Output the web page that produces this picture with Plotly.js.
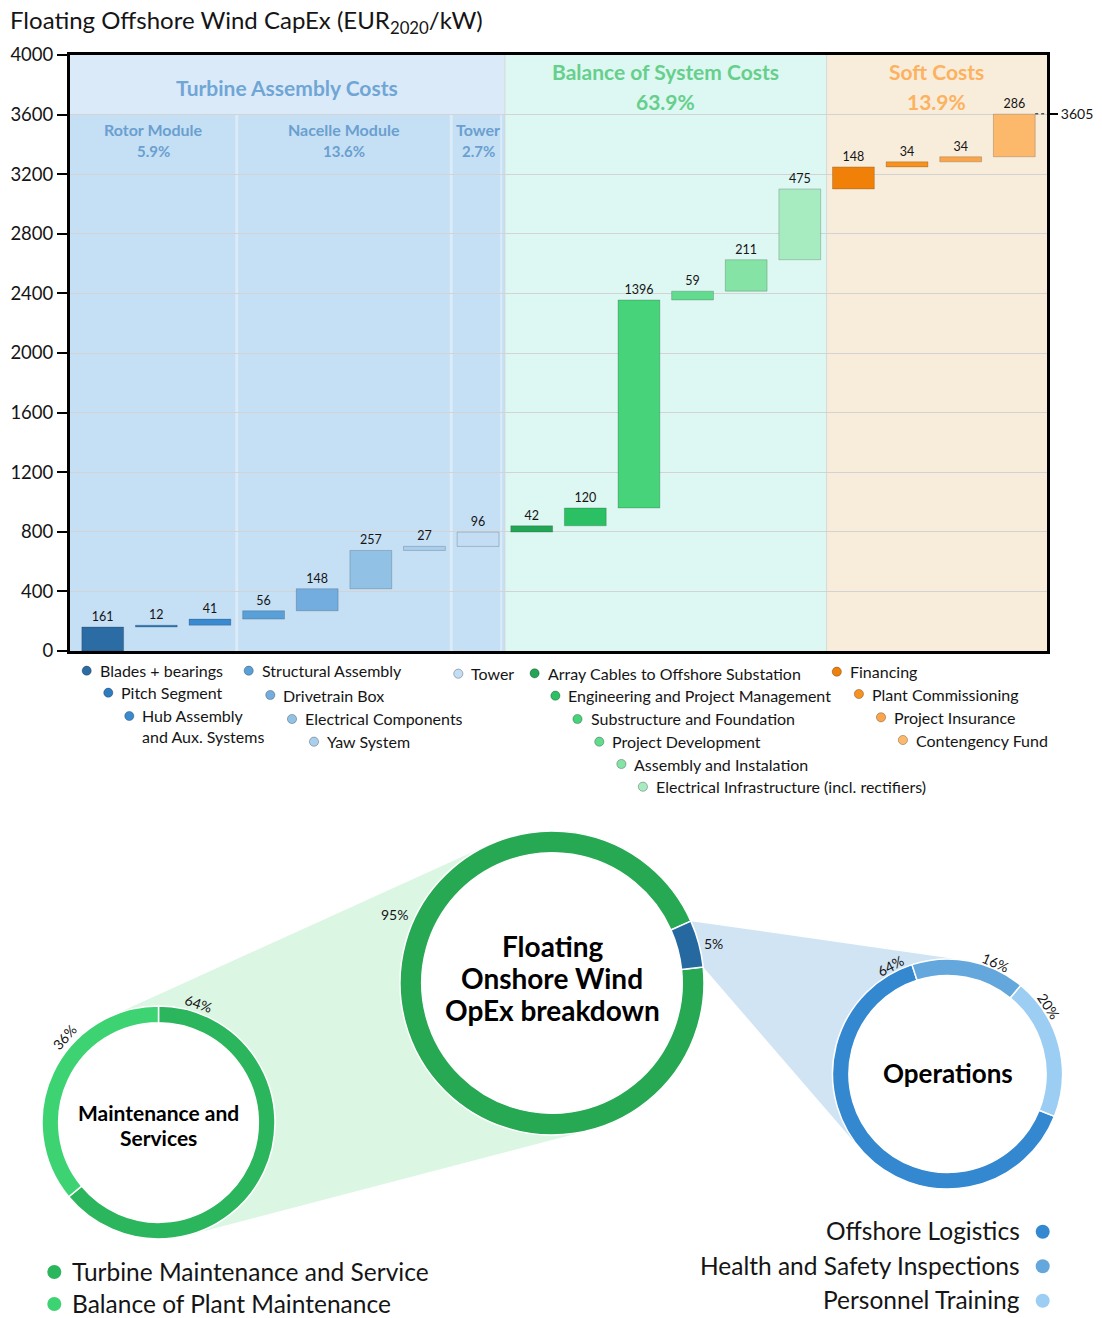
<!DOCTYPE html>
<html>
<head>
<meta charset="utf-8">
<script src="https://cdn.plot.ly/plotly-3.0.1.min.js"></script>
<style>html,body{margin:0;padding:0;background:#fff;}</style>
</head>
<body>
<div id="chart" style="width:1102px;height:1318px;"></div>
<script>
// ---- CapEx cost items (EUR2020 per kW), in waterfall order ----
const categories = [
  'Blades + bearings', 'Pitch Segment', 'Hub Assembly<br>and Aux. Systems',
  'Structural Assembly', 'Drivetrain Box', 'Electrical Components', 'Yaw System',
  'Tower',
  'Array Cables to Offshore Substation', 'Engineering and Project Management',
  'Substructure and Foundation', 'Project Development', 'Assembly and Instalation',
  'Electrical Infrastructure (incl. rectifiers)',
  'Financing', 'Plant Commissioning', 'Project Insurance', 'Contengency Fund'
];
const capex = [161, 12, 41, 56, 148, 257, 27, 96, 42, 120, 1396, 59, 211, 475, 148, 34, 34, 286];
const barColors = [
  '#2a6ca3', '#2e7cc0', '#3a8ad1', '#5aa0d8', '#73ade0', '#92c1e6', '#a9cfee', '#c3ddf4',
  '#23a556', '#2bc063', '#46d37a', '#62db8e', '#85e3a6', '#a7ebc0',
  '#f18008', '#f7921f', '#fba54a', '#fdb96b'
];
const totalCapex = 3605;

// cost sections and their shares of the total
const sectionNames = ['Turbine Assembly Costs', 'Balance of System Costs', 'Soft Costs'];
const sectionShares = ['', '63.9%', '13.9%'];
const moduleNames = ['Rotor Module', 'Nacelle Module', 'Tower'];
const moduleShares = ['5.9%', '13.6%', '2.7%'];

// ---- OpEx breakdown (shares in %) ----
const opexLabels = ['Maintenance and Services', 'Operations'];
const opexShares = [95, 5];
const opexColors = ['#27a853', '#2669a0'];

const maintLabels = ['Turbine Maintenance and Service', 'Balance of Plant Maintenance'];
const maintShares = [64, 36];
const maintColors = ['#2bb55c', '#3dd372'];

const opsLabels = ['Offshore Logistics', 'Health and Safety Inspections', 'Personnel Training'];
const opsShares = [64, 16, 20];
const opsColors = ['#3388d0', '#64a7dc', '#9ccdf2'];

// ---------------------------------------------------------------
const W = 1102, H = 1318;
const px = x => x / W;
const py = y => 1 - y / H;
const FONT = 'Lato, "DejaVu Sans", sans-serif';
const INK = '#151515';

// waterfall bases
const bases = [];
capex.reduce((acc, v) => { bases.push(acc); return acc + v; }, 0);

// category-index spans of each section / module
const sectionSpans = [[0, 7], [8, 13], [14, 17]];
const moduleSpans = [[0, 2], [3, 6], [7, 7]];
const XMIN = -0.61, XMAX = 17.61;
const BAR_W = 0.78;
const edgeLo = s => (s[0] === 0 ? XMIN : s[0] - 0.5);
const edgeHi = s => (s[1] === categories.length - 1 ? XMAX : s[1] + 0.5);

const shapes = [];
const annotations = [];

// section backgrounds
const sectionFill = ['#dbeaf8', '#ddf7f2', '#f8ecdb'];
sectionSpans.forEach((s, i) => {
  shapes.push({type: 'rect', xref: 'x', yref: 'y', layer: 'below',
    x0: edgeLo(s), x1: edgeHi(s), y0: 0, y1: 4000,
    fillcolor: sectionFill[i], line: {width: 0}});
});
// turbine module panels
moduleSpans.forEach(s => {
  shapes.push({type: 'rect', xref: 'x', yref: 'y', layer: 'below',
    x0: edgeLo(s), x1: s[1] + 0.5, y0: 0, y1: 3600,
    fillcolor: '#c5dff4', line: {width: 0}});
});
moduleSpans.slice(1).forEach(s => {
  shapes.push({type: 'line', xref: 'x', yref: 'y', layer: 'below',
    x0: s[0] - 0.5, x1: s[0] - 0.5, y0: 0, y1: 3600,
    line: {color: '#dcebf8', width: 3}});
});
shapes.push({type: 'line', xref: 'x', yref: 'y', layer: 'below',
  x0: 7.43, x1: 7.43, y0: 0, y1: 3600, line: {color: '#dcebf8', width: 2}});
sectionSpans.slice(1).forEach(s => {
  shapes.push({type: 'line', xref: 'x', yref: 'y', layer: 'below',
    x0: s[0] - 0.5, x1: s[0] - 0.5, y0: 0, y1: 4000,
    line: {color: '#d2d9d9', width: 1}});
});

// dotted connector from the last bar to the total tick
const lastIdx = categories.length - 1;
shapes.push({type: 'line', xref: 'x', yref: 'y', layer: 'above',
  x0: lastIdx + BAR_W / 2, x1: XMAX, y0: totalCapex, y1: totalCapex,
  line: {color: '#555', width: 1.5, dash: 'dot'}});

// section and module headers
const headerColors = ['#6fa6d6', '#66cf8b', '#fcb25f'];
sectionSpans.forEach((s, i) => {
  const xc = (edgeLo(s) + edgeHi(s)) / 2;
  if (sectionShares[i]) {
    annotations.push({xref: 'x', yref: 'y', x: xc, y: 3890, text: '<b>' + sectionNames[i] + '</b>',
      showarrow: false, font: {family: FONT, size: 21, color: headerColors[i]}});
    annotations.push({xref: 'x', yref: 'y', x: xc, y: 3690, text: '<b>' + sectionShares[i] + '</b>',
      showarrow: false, font: {family: FONT, size: 21, color: headerColors[i]}});
  } else {
    annotations.push({xref: 'x', yref: 'y', x: xc, y: 3785, text: '<b>' + sectionNames[i] + '</b>',
      showarrow: false, font: {family: FONT, size: 21, color: headerColors[i]}});
  }
});
moduleSpans.forEach((s, i) => {
  const xc = (edgeLo(s) + s[1] + 0.5) / 2;
  annotations.push({xref: 'x', yref: 'y', x: xc, y: 3500, text: '<b>' + moduleNames[i] + '</b>',
    showarrow: false, font: {family: FONT, size: 16, color: '#6a9fd0'}});
  annotations.push({xref: 'x', yref: 'y', x: xc, y: 3355, text: '<b>' + moduleShares[i] + '</b>',
    showarrow: false, font: {family: FONT, size: 15, color: '#6a9fd0'}});
});

// chart title
annotations.push({xref: 'paper', yref: 'paper', x: px(8), y: py(22), xanchor: 'left', yanchor: 'middle',
  text: 'Floating Offshore Wind CapEx (EUR<sub>2020</sub>/kW)', showarrow: false,
  font: {family: FONT, size: 24, color: INK}});

// staggered legend below the waterfall
const legendPos = [
  [86.7, 670.7], [108.3, 692.7], [129.3, 716], [248.7, 670.7], [270.3, 695], [292, 719], [314, 741.7],
  [458.3, 673.7],
  [534.6, 673.3], [555.4, 695.7], [577.5, 719], [599.3, 741.7], [621.4, 764], [642.9, 786.7],
  [836.8, 671.7], [858.9, 694], [881, 717.3], [902.9, 740]
];
categories.forEach((name, i) => {
  const [mx, my] = legendPos[i];
  shapes.push({type: 'circle', xref: 'paper', yref: 'paper', xsizemode: 'pixel', ysizemode: 'pixel',
    xanchor: px(mx), yanchor: py(my), x0: -4.6, x1: 4.6, y0: -4.6, y1: 4.6,
    fillcolor: barColors[i], line: {color: 'rgba(0,0,0,0.35)', width: 0.8}, layer: 'above'});
  const lines = name.split('<br>').length;
  annotations.push({xref: 'paper', yref: 'paper', x: px(mx + 11), y: py(my + (lines - 1) * 9.7),
    xanchor: 'left', yanchor: 'middle', text: name, align: 'left', showarrow: false,
    font: {family: FONT, size: 16, color: INK}});
});

// ---- donut geometry (pixel centres and outer radii) ----
const HOLE = 0.857;
const dMain = {x: 552, y: 983, r: 152};
const dMaint = {x: 158.5, y: 1122.5, r: 116.5};
const dOps = {x: 947.5, y: 1074, r: 115};
const rotMain = 84, rotMaint = 0, rotOps = 111.6;

const domainOf = d => ({x: [px(d.x - d.r), px(d.x + d.r)], y: [py(d.y + d.r), py(d.y - d.r)]});
const onCircle = (d, ang, rr) => [d.x + rr * Math.sin(ang * Math.PI / 180), d.y - rr * Math.cos(ang * Math.PI / 180)];
const toPath = pts => 'M ' + pts.map(p => px(p[0]) + ',' + py(p[1])).join(' L ') + ' Z';

// outer common tangents of two circles
function outerTangents(c1, c2) {
  const dx = c2.x - c1.x, dy = c2.y - c1.y, d = Math.hypot(dx, dy);
  const ux = dx / d, uy = dy / d, ca = (c1.r - c2.r) / d, sa = Math.sqrt(1 - ca * ca);
  return [1, -1].map(s => {
    const nx = ca * ux - s * sa * uy, ny = ca * uy + s * sa * ux;
    return [[c1.x + c1.r * nx, c1.y + c1.r * ny], [c2.x + c2.r * nx, c2.y + c2.r * ny]];
  });
}
// tangent point on a circle seen from an outside point
function tangentFrom(p, c, side) {
  const dx = c.x - p[0], dy = c.y - p[1], d = Math.hypot(dx, dy);
  const a = Math.atan2(dy, dx) + side * Math.asin(c.r / d), L = Math.sqrt(d * d - c.r * c.r);
  return [p[0] + L * Math.cos(a), p[1] + L * Math.sin(a)];
}

// green wedge: main donut -> maintenance donut
const [lowT, upT] = outerTangents(dMaint, dMain);
shapes.push({type: 'path', xref: 'paper', yref: 'paper', layer: 'below',
  path: toPath([upT[0], upT[1], [dMain.x, dMain.y], lowT[1], lowT[0], [dMaint.x, dMaint.y]]),
  fillcolor: '#dcf6e4', line: {width: 0}});

// blue wedge: operations slice -> operations donut
const opsStart = rotMain + 360 * opexShares[0] / 100;
const opsEnd = opsStart + 360 * opexShares[1] / 100;
const pA = onCircle(dMain, opsStart, dMain.r), pB = onCircle(dMain, opsEnd, dMain.r);
shapes.push({type: 'path', xref: 'paper', yref: 'paper', layer: 'below',
  path: toPath([pA, tangentFrom(pA, dOps, -1), [dOps.x, dOps.y], tangentFrom(pB, dOps, 1), pB]),
  fillcolor: '#d1e4f4', line: {width: 0}});

// white discs behind the donut holes
[dMain, dMaint, dOps].forEach(d => {
  shapes.push({type: 'circle', xref: 'paper', yref: 'paper', layer: 'below',
    x0: px(d.x - d.r), x1: px(d.x + d.r), y0: py(d.y + d.r), y1: py(d.y - d.r),
    fillcolor: '#ffffff', line: {width: 0}});
});

// donut centre titles
function centreText(lines, d, size, step, dy) {
  lines.forEach((t, i) => {
    annotations.push({xref: 'paper', yref: 'paper', x: px(d.x), y: py(d.y + dy + (i - (lines.length - 1) / 2) * step),
      xanchor: 'center', yanchor: 'middle', text: '<b>' + t + '</b>', showarrow: false,
      font: {family: FONT, size: size, color: '#000'}});
  });
}
centreText(['Floating', 'Onshore Wind', 'OpEx breakdown'], dMain, 28, 32, -5);
centreText(['Maintenance and', 'Services'], dMaint, 21, 25, 2);
centreText(['Operations'], dOps, 26, 0, -1);

// percentage labels around the donuts: [angle from 12 o'clock, radius, rotate?]
function pctLabels(d, shares, spots) {
  shares.forEach((v, i) => {
    const [ang, rr, turn] = spots[i];
    const p = onCircle(d, ang, rr);
    annotations.push({xref: 'paper', yref: 'paper', x: px(p[0]), y: py(p[1]),
      xanchor: 'center', yanchor: 'middle', text: v + '%', showarrow: false,
      textangle: turn ? ang : 0, font: {family: FONT, size: 14, color: INK}});
  });
}
pctLabels(dMain, opexShares, [[-66.4, 172, false], [76.4, 166, false]]);
pctLabels(dMaint, maintShares, [[18.6, 126, true], [-48, 127, true]]);
pctLabels(dOps, opsShares, [[-27.6, 122, true], [23.4, 122, true], [56.3, 122, true]]);

// donut legends
maintLabels.forEach((t, i) => {
  const y = 1272 + i * 32;
  shapes.push({type: 'circle', xref: 'paper', yref: 'paper', xsizemode: 'pixel', ysizemode: 'pixel',
    xanchor: px(54.3), yanchor: py(y), x0: -7, x1: 7, y0: -7, y1: 7,
    fillcolor: maintColors[i], line: {width: 0}, layer: 'above'});
  annotations.push({xref: 'paper', yref: 'paper', x: px(71), y: py(y - 1), xanchor: 'left', yanchor: 'middle',
    text: t, showarrow: false, borderpad: 0, font: {family: FONT, size: 24.5, color: INK}});
});
opsLabels.forEach((t, i) => {
  const y = 1231.7 + i * 34.5;
  shapes.push({type: 'circle', xref: 'paper', yref: 'paper', xsizemode: 'pixel', ysizemode: 'pixel',
    xanchor: px(1042.7), yanchor: py(y), x0: -7, x1: 7, y0: -7, y1: 7,
    fillcolor: opsColors[i], line: {width: 0}, layer: 'above'});
  annotations.push({xref: 'paper', yref: 'paper', x: px(1021), y: py(y - 1), xanchor: 'right', yanchor: 'middle',
    text: t, showarrow: false, borderpad: 0, font: {family: FONT, size: 24.5, color: INK}});
});

// ---- traces ----
const traces = [
  {
    type: 'bar', x: categories, y: capex, base: bases, width: BAR_W,
    marker: {color: barColors, line: {color: 'rgba(0,0,0,0.18)', width: 1}},
    text: capex.map(String), textposition: 'outside', textangle: 0, constraintext: 'none',
    textfont: {family: FONT, size: 12.5, color: INK}, cliponaxis: false,
    hoverinfo: 'skip', showlegend: false
  },
  {
    type: 'scatter', x: [categories[lastIdx]], y: [totalCapex], yaxis: 'y2', mode: 'markers',
    marker: {opacity: 0}, hoverinfo: 'skip', showlegend: false
  },
  {
    type: 'pie', labels: opexLabels, values: opexShares, hole: HOLE, sort: false,
    direction: 'clockwise', rotation: rotMain, domain: domainOf(dMain),
    marker: {colors: opexColors, line: {color: '#ffffff', width: 1.5}},
    textinfo: 'none', hoverinfo: 'none', showlegend: false
  },
  {
    type: 'pie', labels: maintLabels, values: maintShares, hole: HOLE, sort: false,
    direction: 'clockwise', rotation: rotMaint, domain: domainOf(dMaint),
    marker: {colors: maintColors, line: {color: '#ffffff', width: 1.5}},
    textinfo: 'none', hoverinfo: 'none', showlegend: false
  },
  {
    type: 'pie', labels: opsLabels, values: opsShares, hole: HOLE, sort: false,
    direction: 'clockwise', rotation: rotOps, domain: domainOf(dOps),
    marker: {colors: opsColors, line: {color: '#ffffff', width: 1.5}},
    textinfo: 'none', hoverinfo: 'none', showlegend: false
  }
];

const layout = {
  width: W, height: H,
  margin: {l: 0, r: 0, t: 0, b: 0, pad: 0},
  paper_bgcolor: '#ffffff', plot_bgcolor: '#ffffff',
  font: {family: FONT, color: INK},
  showlegend: false,
  bargap: 0.22,
  xaxis: {
    type: 'category', domain: [px(70), px(1047)], range: [XMIN, XMAX],
    showticklabels: false, ticks: '', showgrid: false, zeroline: false,
    showline: true, linecolor: '#000', linewidth: 3, mirror: true,
    automargin: false, fixedrange: true
  },
  yaxis: {
    domain: [py(651), py(55)], range: [0, 4000], dtick: 400, tick0: 0,
    ticks: 'outside', ticklen: 10, tickwidth: 2, tickcolor: '#000',
    tickfont: {family: FONT, size: 18.5, color: INK},
    showgrid: true, gridcolor: '#d3d3d3', gridwidth: 1, zeroline: false,
    showline: true, linecolor: '#000', linewidth: 3, mirror: true,
    automargin: false, fixedrange: true
  },
  yaxis2: {
    overlaying: 'y', anchor: 'x', side: 'right', range: [0, 4000],
    tickmode: 'array', tickvals: [totalCapex], ticktext: [String(totalCapex)],
    ticks: 'outside', ticklen: 10, tickwidth: 1.5, tickcolor: '#000',
    tickfont: {family: FONT, size: 14, color: INK},
    showgrid: false, zeroline: false, showline: false,
    automargin: false, fixedrange: true
  },
  shapes: shapes,
  annotations: annotations
};

Plotly.newPlot('chart', traces, layout, {displayModeBar: false, staticPlot: true});
</script>
</body>
</html>
